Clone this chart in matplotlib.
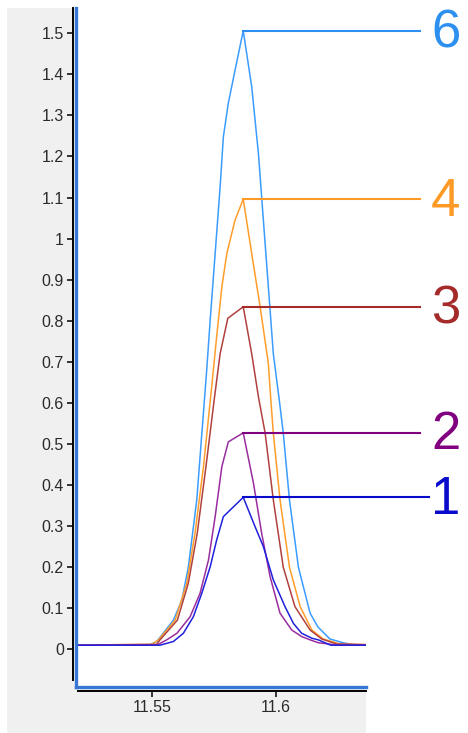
import matplotlib
matplotlib.use('Agg')
import matplotlib.pyplot as plt
from matplotlib.patches import Rectangle
from matplotlib.ticker import FuncFormatter, MultipleLocator

plt.rcParams['font.family'] = ['Liberation Sans', 'DejaVu Sans']

# retention time (min) / intensity vertices
t6 = [11.515, 11.5490, 11.5520, 11.5587, 11.5621, 11.5647, 11.5667, 11.5681, 11.5721,
      11.5735, 11.5755, 11.5775, 11.5788, 11.5808, 11.5835, 11.5868, 11.5902, 11.5929,
      11.5949, 11.5969, 11.5989, 11.6013, 11.6029, 11.6054, 11.6090, 11.6137, 11.6169,
      11.6217, 11.6270, 11.6318, 11.645]
y6 = [0.01, 0.01, 0.019, 0.071, 0.12, 0.2, 0.296, 0.364, 0.68,
      0.802, 0.964, 1.126, 1.248, 1.33, 1.41, 1.506, 1.37, 1.208,
      1.045, 0.883, 0.72, 0.607, 0.527, 0.364, 0.2, 0.088, 0.054,
      0.025, 0.016, 0.01, 0.01]

t4 = [11.515, 11.5500, 11.5527, 11.5594, 11.5641, 11.5674, 11.5708, 11.5741, 11.5761,
      11.5782, 11.5802, 11.5835, 11.5868, 11.5902, 11.5936, 11.5969, 11.5979, 11.5989,
      11.6016, 11.6054, 11.6097, 11.6144, 11.6190, 11.6257, 11.645]
y4 = [0.01, 0.012, 0.023, 0.071, 0.161, 0.283, 0.445, 0.639, 0.761,
      0.883, 0.964, 1.045, 1.096, 0.964, 0.834, 0.696, 0.607, 0.527,
      0.364, 0.2, 0.104, 0.047, 0.025, 0.013, 0.01]

t3 = [11.515, 11.5520, 11.5533, 11.5603, 11.5647, 11.5683, 11.5718, 11.5751, 11.5775,
      11.5806, 11.5868, 11.5902, 11.5929, 11.5956, 11.5989, 11.6029, 11.6076, 11.6137,
      11.6184, 11.6244, 11.645]
y3 = [0.01, 0.012, 0.023, 0.071, 0.161, 0.283, 0.445, 0.607, 0.72,
      0.806, 0.834, 0.72, 0.615, 0.527, 0.364, 0.2, 0.104, 0.047,
      0.025, 0.013, 0.01]

t2 = [11.515, 11.5520, 11.5560, 11.5601, 11.5654, 11.5694, 11.5728, 11.5755, 11.5782,
      11.5808, 11.5868, 11.5909, 11.5942, 11.5976, 11.6016, 11.6063, 11.6103, 11.6137,
      11.6170, 11.625, 11.645]
y2 = [0.01, 0.01, 0.023, 0.039, 0.079, 0.136, 0.217, 0.323, 0.445,
      0.505, 0.527, 0.405, 0.283, 0.177, 0.088, 0.047, 0.031, 0.023,
      0.016, 0.01, 0.01]

t1 = [11.515, 11.5533, 11.5587, 11.5627, 11.5667, 11.5701, 11.5735, 11.5761, 11.5788,
      11.5868, 11.5916, 11.5949, 11.5989, 11.6036, 11.6070, 11.6103, 11.6144, 11.6170,
      11.622, 11.645]
y1 = [0.01, 0.01, 0.019, 0.039, 0.079, 0.136, 0.201, 0.266, 0.323,
      0.37, 0.298, 0.25, 0.169, 0.104, 0.063, 0.039, 0.027, 0.023,
      0.01, 0.01]

peak_time = 11.5868
labels = ['6', '4', '3', '2', '1']
line_colors = ['#3b9cff', '#ff9d2a', '#b0413e', '#9a2d9e', '#2020dd']
label_colors = ['#2d8ff0', '#ff9a26', '#a52a2a', '#800080', '#0a0acd']
series = [(t6, y6), (t4, y4), (t3, y3), (t2, y2), (t1, y1)]

W, H = 468, 733
fig = plt.figure(figsize=(W / 100, H / 100), dpi=100)
fig.patch.set_facecolor('white')

# grey control panel behind the axes
fig.add_artist(Rectangle((7 / W, 0), (366 - 7) / W, (H - 8) / H,
                         transform=fig.transFigure, facecolor='#f0f0f0',
                         edgecolor='none', zorder=0))

ax = fig.add_axes([76 / W, (H - 687) / H, (366 - 76) / W, (687 - 8) / H])
ax.set_facecolor('white')
ax.set_xlim(11.5195, 11.6362)
ax.set_ylim(-0.0918, 1.5615)

for (t, y), c in zip(series, line_colors):
    ax.plot(t, y, color=c, lw=1.1, zorder=3)

# connector lines and trace numbers
for (t, y), lab, c in zip(series, labels, label_colors):
    top = max(y)
    x_end = 11.6615 if lab == '1' else 11.6579
    ax.plot([peak_time, x_end], [top, top], color=c, lw=1.5,
            clip_on=False, zorder=4)
    ax.text(11.6742, top - 0.006, lab, color=c, fontsize=38, ha='right',
            va='center', clip_on=False)

# black axis lines offset from the blue frame
for side in ['top', 'right']:
    ax.spines[side].set_visible(False)
ax.spines['left'].set_position(('outward', 2.2))
ax.spines['bottom'].set_position(('outward', 2.9))
ax.spines['left'].set_bounds(-0.075, 1.5615)
ax.spines['bottom'].set_bounds(11.5204, 11.6362)
for side in ['left', 'bottom']:
    ax.spines[side].set_color('black')
    ax.spines[side].set_linewidth(1.4)

blue = '#3877d6'
ax.plot([0, 0], [0, 1], transform=ax.transAxes, color=blue, lw=2.4,
        clip_on=False, zorder=5)
ax.plot([0, 1], [0, 0], transform=ax.transAxes, color=blue, lw=2.4,
        clip_on=False, zorder=5)

ax.yaxis.set_major_locator(MultipleLocator(0.1))
ax.xaxis.set_major_locator(MultipleLocator(0.05))
ax.yaxis.set_major_formatter(FuncFormatter(lambda v, p: f'{round(v, 2):g}'))
ax.xaxis.set_major_formatter(FuncFormatter(lambda v, p: f'{round(v, 2):g}'))
ax.tick_params(axis='both', direction='out', length=4.5, width=1.1,
               color='black', labelsize=11.5, labelcolor='#2a2a2a', pad=2)

fig.savefig('out.png', dpi=100)
